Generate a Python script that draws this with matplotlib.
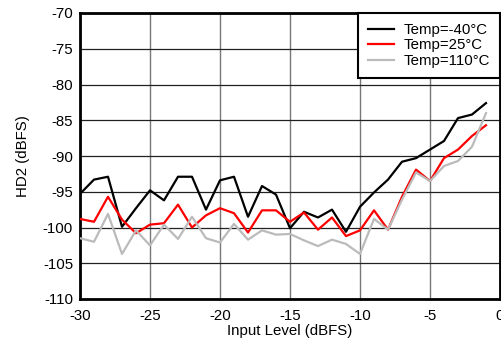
import matplotlib
matplotlib.use("Agg")
import matplotlib.pyplot as plt

plt.rcParams['font.family'] = ['Liberation Sans', 'DejaVu Sans']
plt.rcParams['axes.unicode_minus'] = False

input_level = list(range(-30, 0))
hd2_m40 = [-95.3, -93.3, -92.9, -99.9, -97.3, -94.8, -96.2, -92.9, -92.9, -97.5,
           -93.4, -92.9, -98.5, -94.2, -95.4, -100.1, -97.8, -98.6, -97.5, -100.6,
           -97.1, -95.1, -93.3, -90.8, -90.3, -89.1, -87.9, -84.7, -84.2, -82.6]
hd2_25 = [-98.8, -99.2, -95.7, -98.9, -100.8, -99.6, -99.4, -96.8, -100.0, -98.3,
          -97.3, -98.0, -100.7, -97.6, -97.6, -99.2, -97.9, -100.3, -98.6, -101.2,
          -100.4, -97.6, -100.3, -95.7, -91.9, -93.5, -90.3, -89.1, -87.2, -85.7]
hd2_110 = [-101.5, -102.0, -98.1, -103.7, -100.4, -102.5, -99.6, -101.6, -98.5, -101.5,
           -102.1, -99.5, -101.7, -100.4, -101.0, -100.9, -101.8, -102.6, -101.7, -102.3,
           -103.7, -98.8, -100.3, -96.1, -92.3, -93.5, -91.4, -90.7, -88.7, -84.0]
labels = ['Temp=-40°C', 'Temp=25°C', 'Temp=110°C']

fs = 10.8
fig = plt.figure(figsize=(5.02, 3.41), dpi=100)
ax = fig.add_axes([80/502, 1 - 299/341, 420/502, 286/341])

ax.plot(input_level, hd2_m40, color='black', lw=1.6, label=labels[0], zorder=3)
ax.plot(input_level, hd2_25, color='#ff0000', lw=1.6, label=labels[1], zorder=3)
ax.plot(input_level, hd2_110, color='#bbbbbb', lw=1.6, label=labels[2], zorder=3)

ax.set_xlim(-30, 0)
ax.set_ylim(-110, -70)
ax.set_xticks(range(-30, 1, 5))
ax.set_yticks(range(-110, -69, 5))
ax.xaxis.grid(True, color='#777777', lw=1)
ax.yaxis.grid(True, color='#222222', lw=0.9)
ax.set_axisbelow(True)
ax.tick_params(length=0, labelsize=fs)
ax.tick_params(axis='y', pad=5)
ax.tick_params(axis='x', pad=7)
for s in ax.spines.values():
    s.set_linewidth(2)
ax.set_xlabel('Input Level (dBFS)', fontsize=fs, labelpad=1)
ax.set_ylabel('HD2 (dBFS)', fontsize=fs, labelpad=9)

leg = ax.legend(loc='upper right', fontsize=fs, fancybox=False, framealpha=1,
                edgecolor='black', borderaxespad=0, handlelength=1.75,
                labelspacing=0.1, borderpad=0.65, handletextpad=0.65)
leg.get_frame().set_linewidth(1.5)

fig.savefig('out.png', dpi=100)
